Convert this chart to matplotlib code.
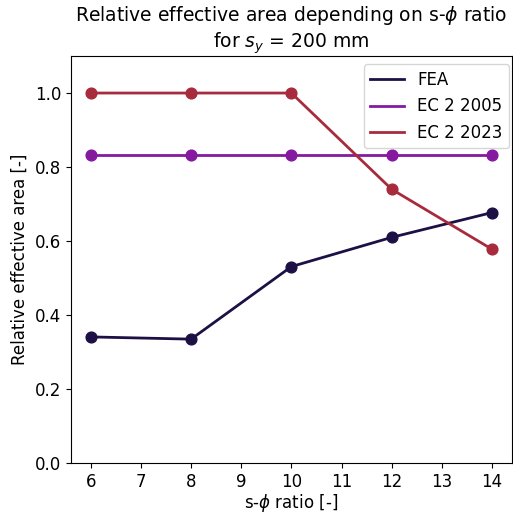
import matplotlib
matplotlib.use("Agg")
import matplotlib.pyplot as plt

ratios = [6, 8, 10, 12, 14]
fea = [0.341, 0.335, 0.531, 0.610, 0.677]
ec2_2005 = [0.833, 0.833, 0.833, 0.833, 0.833]
ec2_2023 = [1.0, 1.0, 1.0, 0.740, 0.578]
xticks = [6, 7, 8, 9, 10, 11, 12, 13, 14]

series = [
    ("FEA", fea, "#1d1044"),
    ("EC 2 2005", ec2_2005, "#8519a0"),
    ("EC 2 2023", ec2_2023, "#a72b3c"),
]

plt.rcParams["font.size"] = 12
fig, ax = plt.subplots(figsize=(5.13, 5.14), dpi=100)
fig.subplots_adjust(left=0.138, right=0.998, top=0.891, bottom=0.099)

for label, values, color in series:
    ax.plot(ratios, values, color=color, linewidth=2, label=label)
    ax.scatter(ratios, values, color=color, s=60, zorder=3)

ax.set_xticks(xticks)
ax.set_ylim(0, 1.1)
ax.set_xlabel(r"s-$\phi$ ratio [-]", labelpad=1)
ax.set_ylabel("Relative effective area [-]")
ax.set_title("Relative effective area depending on s-$\\phi$ ratio\nfor $s_y$ = 200 mm", fontsize=13.5)
ax.legend(loc="upper right", bbox_to_anchor=(1.012, 1.0))

fig.savefig("out.png", dpi=100)
